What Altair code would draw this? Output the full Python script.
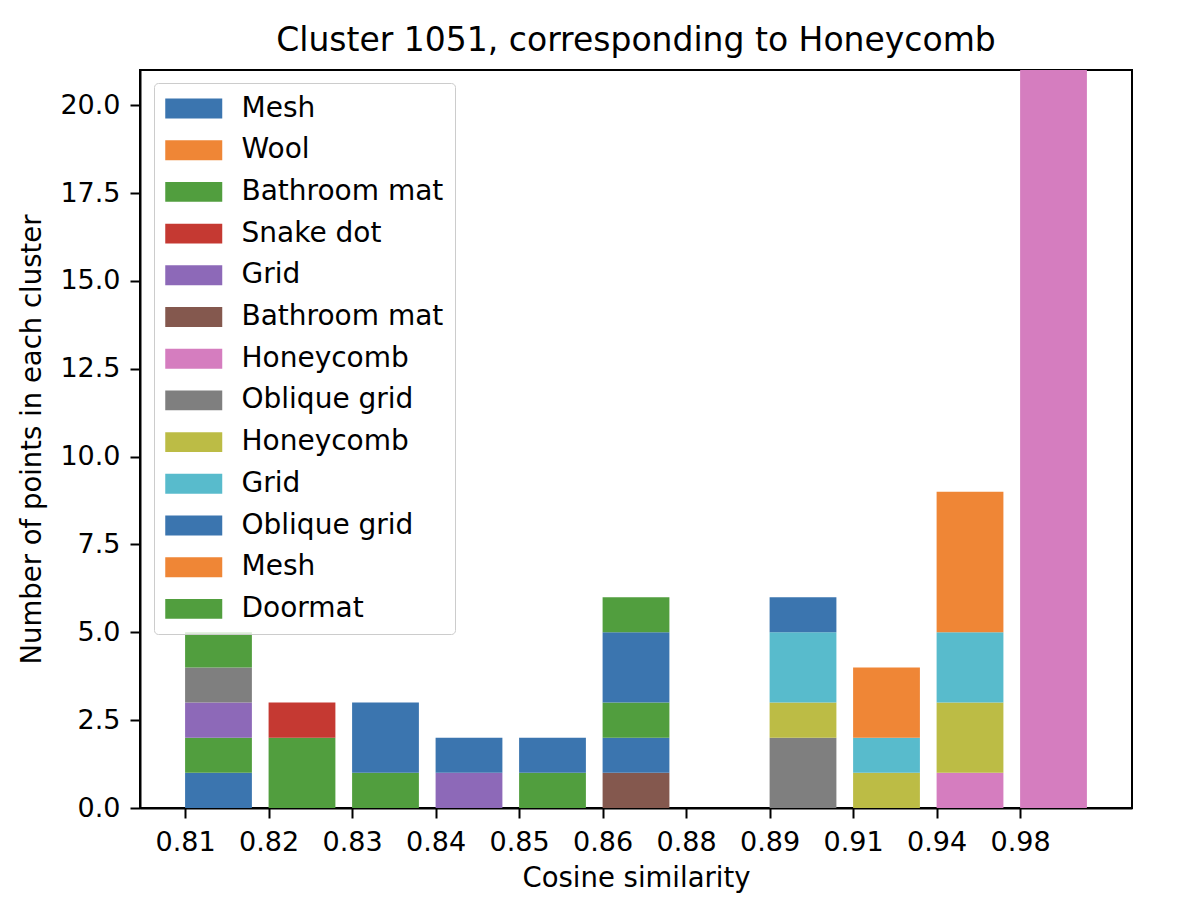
import altair as alt
import pandas as pd

# --- data -------------------------------------------------------------
tick_labels = ["0.81", "0.82", "0.83", "0.84", "0.85", "0.86",
               "0.88", "0.89", "0.91", "0.94", "0.98"]

series_names = ["Mesh", "Wool", "Bathroom mat", "Snake dot", "Grid",
                "Bathroom mat", "Honeycomb", "Oblique grid", "Honeycomb",
                "Grid", "Oblique grid", "Mesh", "Doormat"]

series_colors = ["#3b75af", "#ef8636", "#519e3e", "#c53932", "#8d69b8",
                 "#84584e", "#d57dbf", "#7f7f7f", "#bcbc45", "#58bbcc",
                 "#3b75af", "#ef8636", "#519e3e"]

# stacked segments (bottom to top within each bar)
seg_pos = [0, 0, 0, 0, 0,
           1, 1,
           2, 2,
           3, 3,
           4, 4,
           5, 5, 5, 5, 5,
           7, 7, 7, 7,
           8, 8, 8,
           9, 9, 9, 9,
           10]
seg_series = [0, 2, 4, 7, 12,
              2, 3,
              2, 10,
              4, 10,
              2, 10,
              5, 10, 12, 0, 2,
              7, 8, 9, 10,
              8, 9, 1,
              6, 8, 9, 11,
              6]
seg_count = [1, 1, 1, 1, 1,
             2, 1,
             1, 2,
             1, 1,
             1, 1,
             1, 1, 1, 2, 1,
             2, 1, 2, 1,
             1, 1, 2,
             1, 2, 2, 4,
             21]

ids = [f"s{i:02d}" for i in range(len(series_names))]

df = pd.DataFrame({
    "pos": seg_pos,
    "series": [ids[s] for s in seg_series],
    "count": seg_count,
    "seg": list(range(len(seg_pos))),
})

FONT = "DejaVu Sans"

labels_js = "[" + ",".join(f"'{t}'" for t in tick_labels) + "]"
names_js = "{" + ",".join(f"'{i}':'{n}'" for i, n in zip(ids, series_names)) + "}"

chart = alt.Chart(df).transform_window(
    top="sum(count)", groupby=["pos"], sort=[alt.SortField("seg", order="ascending")],
    frame=[None, 0]
).transform_calculate(
    bottom="datum.top - datum.count",
    pos_end="datum.pos + 0.8",
).mark_bar(clip=True).encode(
    x=alt.X("pos:Q",
            scale=alt.Scale(domain=[-0.54, 11.34], nice=False, zero=False),
            axis=alt.Axis(values=list(range(len(tick_labels))),
                          labelExpr=f"{labels_js}[datum.value]",
                          title="Cosine similarity")),
    x2="pos_end:Q",
    y=alt.Y("top:Q",
            scale=alt.Scale(domain=[0, 21], nice=False),
            axis=alt.Axis(values=[0, 2.5, 5, 7.5, 10, 12.5, 15, 17.5, 20],
                          format=".1f",
                          title="Number of points in each cluster")),
    y2="bottom:Q",
    color=alt.Color("series:N",
                    scale=alt.Scale(domain=ids, range=series_colors),
                    legend=alt.Legend(
                        title=None,
                        orient="none",
                        legendX=14, legendY=13,
                        labelExpr=f"{names_js}[datum.label]",
                        symbolType="M-1,-0.7L3,-0.7L3,0.7L-1,0.7Z",
                        symbolSize=812,
                        symbolStrokeWidth=0,
                        symbolOpacity=1,
                        labelFont=FONT, labelFontSize=28, labelColor="black",
                        labelOffset=47.5,
                        labelLimit=400,
                        rowPadding=12.7,
                        padding=11,
                        strokeColor="#cccccc",
                        fillColor="rgba(255,255,255,0.8)",
                        cornerRadius=4,
                    )),
).properties(
    width=992,
    height=738,
    title=alt.TitleParams("Cluster 1051, corresponding to Honeycomb",
                          font=FONT, fontSize=33, fontWeight="normal",
                          color="black", anchor="middle", frame="group",
                          offset=12),
    padding={"left": 132, "top": 62, "right": 46, "bottom": 90},
    autosize=alt.AutoSizeParams(type="none"),
).configure_view(
    stroke="black", strokeWidth=2,
).configure_axis(
    grid=False,
    domainColor="black", domainWidth=2,
    tickColor="black", tickWidth=2, tickSize=10,
    labelFont=FONT, labelFontSize=27, labelColor="black",
    titleFont=FONT, titleFontSize=27.5, titleColor="black", titleFontWeight="normal",
).configure_axisX(
    labelPadding=11, titlePadding=9,
).configure_axisY(
    labelPadding=10, titlePadding=13,
)

chart.save("out.html", embed_options={"renderer": "svg", "actions": False})
